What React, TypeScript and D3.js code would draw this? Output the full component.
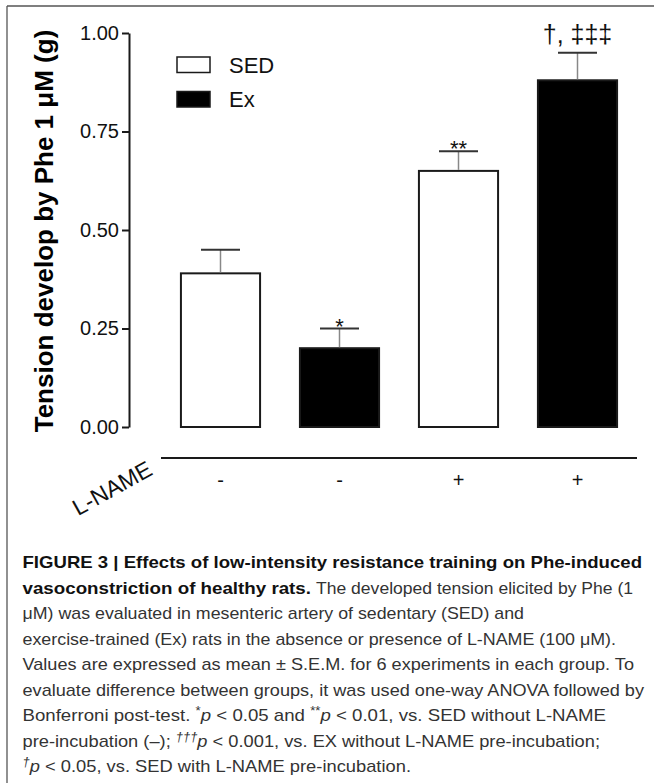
import { useEffect, useRef } from "react";
import * as d3 from "d3";

const groups = ["SED -", "Ex -", "SED +", "Ex +"];
const series = ["SED", "Ex", "SED", "Ex"];
const lname = ["-", "-", "+", "+"];
const means = [0.39, 0.2, 0.65, 0.88];
const sems = [0.06, 0.05, 0.05, 0.07];
const marks = ["", "*", "**", "†, ‡‡‡"];
const yTicks = [0, 0.25, 0.5, 0.75, 1.0];
const legendItems = ["SED", "Ex"];

const captionLines = [
  { bold: "FIGURE 3 | Effects of low-intensity resistance training on Phe-induced", end: 642 },
  { bold: "vasoconstriction of healthy rats.", boldEnd: 311, rest: "The developed tension elicited by Phe (1", restStart: 316, end: 633 },
  { rest: "μM) was evaluated in mesenteric artery of sedentary (SED) and", end: 524 },
  { rest: "exercise-trained (Ex) rats in the absence or presence of L-NAME (100 μM).", end: 616 },
  { rest: "Values are expressed as mean ± S.E.M. for 6 experiments in each group. To", end: 634 },
  { rest: "evaluate difference between groups, it was used one-way ANOVA followed by", end: 644 },
];

const width = 654;
const height = 783;
const fontMain = "'Liberation Sans', Arial, Helvetica, sans-serif";

const App = () => {
  const yAxisRef = useRef<SVGGElement>(null);

  const x = d3
    .scaleBand()
    .domain(groups)
    .range([161, 637])
    .paddingInner(0.335)
    .paddingOuter(0.1675);

  const y = d3.scaleLinear().domain([0, 1]).range([427, 33]);

  const fill = d3.scaleOrdinal<string>().domain(["SED", "Ex"]).range(["#ffffff", "#000000"]);

  useEffect(() => {
    const g = d3.select(yAxisRef.current);
    g.call(
      d3
        .axisLeft(y)
        .tickValues(yTicks)
        .tickFormat(d3.format(".2f"))
        .tickSize(7)
        .tickPadding(3)
        .tickSizeOuter(0)
    );
    g.select(".domain").attr("stroke", "#1a1a1a").attr("stroke-width", 2);
    g.selectAll(".tick line").attr("stroke", "#1a1a1a").attr("stroke-width", 2);
    g.selectAll(".tick text")
      .attr("font-size", 20)
      .attr("font-family", fontMain)
      .attr("fill", "#111");
  }, []);

  const capW = 39;
  const baseY = 568;
  const lineH = 25.5;

  return (
    <svg
      width={width}
      height={height}
      style={{ position: "absolute", left: 0, top: 0, background: "#fff" }}
      fontFamily={fontMain}
    >
      {/* frame */}
      <line x1={7} y1={6} x2={654} y2={6} stroke="#555" strokeWidth={1.3} />
      <line x1={7} y1={6} x2={7} y2={783} stroke="#555" strokeWidth={1.3} />

      {/* bars */}
      <g>
        {groups.map((d, i) => (
          <rect
            key={d}
            x={x(d)}
            y={y(means[i])}
            width={x.bandwidth()}
            height={y(0) - y(means[i])}
            fill={fill(series[i])}
            stroke="#1a1a1a"
            strokeWidth={2}
          />
        ))}
      </g>

      {/* error bars */}
      <g>
        {groups.map((d, i) => {
          const cx = (x(d) as number) + x.bandwidth() / 2;
          return (
            <g key={d}>
              <line x1={cx} x2={cx} y1={y(means[i]) - 1} y2={y(means[i] + sems[i])} stroke="#888" strokeWidth={1.5} />
              <line x1={cx - capW / 2} x2={cx + capW / 2} y1={y(means[i] + sems[i])} y2={y(means[i] + sems[i])} stroke="#333" strokeWidth={2} />
            </g>
          );
        })}
      </g>

      {/* significance marks */}
      <g>
        {groups.map((d, i) => {
          const cx = (x(d) as number) + x.bandwidth() / 2;
          const top = y(means[i] + sems[i]);
          const isDagger = marks[i].includes("†");
          return (
            <text
              key={d}
              x={cx}
              y={isDagger ? top - 10 : top + 5}
              textAnchor="middle"
              fontSize={isDagger ? 25 : 22}
              fill="#111"
            >
              {marks[i]}
            </text>
          );
        })}
      </g>

      <g ref={yAxisRef} transform="translate(129,0)" />

      {/* y label */}
      <text
        transform={`translate(53,${(y(0) + y(1)) / 2 + 1}) rotate(-90)`}
        textAnchor="middle"
        fontSize={26}
        fontWeight="bold"
        fill="#000"
      >
        Tension develop by Phe 1 μM (g)
      </text>

      {/* legend */}
      <g>
        {legendItems.map((s, i) => (
          <g key={s} transform={`translate(177,${57 + i * 34.5})`}>
            <rect x={0} y={0} width={33} height={15.5} fill={fill(s)} stroke="#1a1a1a" strokeWidth={1.5} />
            <text x={52} y={15.5} fontSize={22} fill="#111">
              {s}
            </text>
          </g>
        ))}
      </g>

      {/* L-NAME row */}
      <line x1={x.range()[0]} x2={x.range()[1]} y1={458} y2={458} stroke="#1a1a1a" strokeWidth={2} />
      <text transform="translate(154,474) rotate(-29)" textAnchor="end" fontSize={23} fill="#111">
        L-NAME
      </text>
      {groups.map((d, i) => (
        <text
          key={d}
          x={(x(d) as number) + x.bandwidth() / 2}
          y={487}
          textAnchor="middle"
          fontSize={20}
          fill="#111"
        >
          {lname[i]}
        </text>
      ))}

      {/* caption */}
      <g fontSize={17} fill="#333">
        {captionLines.map((l, i) => {
          const yy = baseY + i * lineH;
          if (l.bold && !l.rest) {
            return (
              <text key={i} x={22.5} y={yy} fontWeight="bold" fill="#111" textLength={l.end - 22.5} lengthAdjust="spacingAndGlyphs">
                {l.bold}
              </text>
            );
          }
          if (l.bold && l.rest) {
            return (
              <g key={i}>
                <text x={22.5} y={yy} fontWeight="bold" fill="#111" textLength={(l.boldEnd as number) - 22.5} lengthAdjust="spacingAndGlyphs">
                  {l.bold}
                </text>
                <text x={l.restStart} y={yy} textLength={l.end - (l.restStart as number)} lengthAdjust="spacingAndGlyphs">
                  {l.rest}
                </text>
              </g>
            );
          }
          return (
            <text key={i} x={22.5} y={yy} textLength={l.end - 22.5} lengthAdjust="spacingAndGlyphs">
              {l.rest}
            </text>
          );
        })}
        <text x={22.5} y={baseY + 6 * lineH} textLength={606 - 22.5} lengthAdjust="spacingAndGlyphs">
          Bonferroni post-test. <tspan fontSize={12} dy={-6}>*</tspan>
          <tspan dy={6} fontStyle="italic">p</tspan> &lt; 0.05 and <tspan fontSize={12} dy={-6}>**</tspan>
          <tspan dy={6} fontStyle="italic">p</tspan> &lt; 0.01, vs. SED without L-NAME
        </text>
        <text x={22.5} y={baseY + 7 * lineH} textLength={600 - 22.5} lengthAdjust="spacingAndGlyphs">
          pre-incubation (–); <tspan fontSize={12} dy={-6} fontStyle="italic">†††</tspan>
          <tspan dy={6} fontStyle="italic">p</tspan> &lt; 0.001, vs. EX without L-NAME pre-incubation;
        </text>
        <text x={22.5} y={baseY + 8 * lineH} textLength={411 - 22.5} lengthAdjust="spacingAndGlyphs">
          <tspan fontSize={12} dy={-6} fontStyle="italic">†</tspan>
          <tspan dy={6} fontStyle="italic">p</tspan> &lt; 0.05, vs. SED with L-NAME pre-incubation.
        </text>
      </g>
    </svg>
  );
};

export default App;
